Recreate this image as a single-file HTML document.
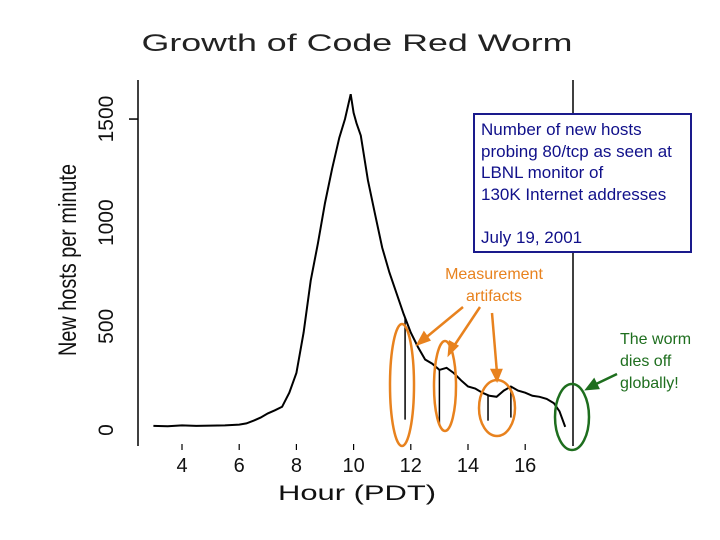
<!DOCTYPE html>
<html><head><meta charset="utf-8"><style>
html,body{margin:0;padding:0;background:#fff;}
svg{display:block;font-family:"Liberation Sans",Arial,sans-serif;}
</style></head><body>
<svg width="720" height="540" viewBox="0 0 720 540">
<text x="357" y="51" font-size="24" text-anchor="middle" textLength="431" lengthAdjust="spacingAndGlyphs" fill="#222">Growth of Code Red Worm</text>
<g id="axes"></g>
<g id="series"></g>
<text transform="translate(76,260) rotate(-90)" font-size="25" text-anchor="middle" textLength="192" lengthAdjust="spacingAndGlyphs" fill="#111">New hosts per minute</text>
<text x="357" y="500" font-size="21" text-anchor="middle" textLength="158" lengthAdjust="spacingAndGlyphs" fill="#111">Hour (PDT)</text>
<rect x="474" y="114" width="217" height="138" fill="#fff" stroke="#1a1a8c" stroke-width="2"/>
<g font-size="17" fill="#10108a">
<text x="481" y="135">Number of new hosts</text>
<text x="481" y="157">probing 80/tcp as seen at</text>
<text x="481" y="178">LBNL monitor of</text>
<text x="481" y="200">130K Internet addresses</text>
<text x="481" y="243">July 19, 2001</text>
</g>
<g font-size="16" fill="#e8821e" text-anchor="middle">
<text x="494" y="279">Measurement</text>
<text x="494" y="301">artifacts</text>
</g>
<g stroke="#e8821e" stroke-width="2.5" fill="none">
<ellipse cx="402" cy="385" rx="12" ry="61"/>
<ellipse cx="445" cy="386" rx="11" ry="45"/>
<ellipse cx="497" cy="408" rx="18" ry="28"/>
<line x1="463" y1="307" x2="423" y2="340"/><polygon points="418,344 424,333 429,340" fill="#e8821e"/>
<line x1="480" y1="307" x2="452" y2="349"/><polygon points="449,354 450,342 457,346" fill="#e8821e"/>
<line x1="492" y1="313" x2="497" y2="373"/><polygon points="497,380 492,370 501,370" fill="#e8821e"/>
</g>
<ellipse cx="572" cy="417" rx="17" ry="33" stroke="#1e6e1e" stroke-width="2.5" fill="none"/>
<g stroke="#1e6e1e" stroke-width="2.5" fill="#1e6e1e">
<line x1="617" y1="374" x2="594" y2="385"/><polygon points="587,389 594,380 598,388"/>
</g>
<g font-size="16" fill="#1e6e1e">
<text x="620" y="344">The worm</text>
<text x="620" y="366">dies off</text>
<text x="620" y="388">globally!</text>
</g>
</svg>
<script>
const hours=[3,3.5,4,4.5,5,5.5,6,6.25,6.5,6.75,7,7.25,7.5,7.75,8,8.25,8.5,8.75,9,9.25,9.5,9.7,9.9,10,10.1,10.25,10.5,10.75,11,11.25,11.5,11.75,12,12.25,12.5,12.75,13,13.25,13.5,13.75,14,14.25,14.5,14.75,15,15.25,15.5,15.75,16,16.25,16.5,16.75,17,17.2,17.4];
const counts=[20,18,22,20,21,22,26,32,45,60,80,95,112,180,275,470,720,900,1095,1260,1410,1500,1620,1530,1480,1420,1205,1040,880,760,660,560,470,400,340,320,290,300,275,240,210,200,180,165,160,190,210,190,180,165,160,150,130,90,15];
const dipHours=[11.8,13.0,14.7,15.5];
const dipValues=[50,20,45,60];
const xTicks=[4,6,8,10,12,14,16];
const yTicks=[0,500,1000,1500];
const X=h=>182+(h-4)*28.6;
const Y=v=>430-v*0.2073;
const NS='http://www.w3.org/2000/svg';
const ax=document.getElementById('axes'),se=document.getElementById('series');
function mk(tag,attrs,parent){const e=document.createElementNS(NS,tag);for(const k in attrs)e.setAttribute(k,attrs[k]);parent.appendChild(e);return e;}
let l=mk('line',{x1:138,y1:80,x2:138,y2:446,stroke:'#000','stroke-width':1.5},ax);


l=mk('line',{x1:573,y1:80,x2:573,y2:446,stroke:'#000','stroke-width':1.5},ax);


yTicks.forEach(v=>{
 const t=mk('text',{transform:`translate(113,${Y(v)}) rotate(-90)`,'font-size':21,'text-anchor':'middle',fill:'#111'},ax);
 t.textContent=v;
 
 
});
const tk=mk('line',{x1:129,y1:Y(1500),x2:138,y2:Y(1500),stroke:'#000','stroke-width':1.5},ax);


xTicks.forEach(h=>{
 const t=mk('text',{x:X(h),y:472,'font-size':20,'text-anchor':'middle',fill:'#111'},ax);
 t.textContent=h;
 
 
 const m=mk('line',{x1:X(h),y1:444,x2:X(h),y2:450,stroke:'#000','stroke-width':1.2},ax);
 
 
});
const pts=hours.map((h,i)=>X(h).toFixed(1)+','+Y(counts[i]).toFixed(1)).join(' ');
const pl=mk('polyline',{points:pts,fill:'none',stroke:'#000','stroke-width':2},se);


dipHours.forEach((h,i)=>{
 let j=0;while(j<hours.length-1&&hours[j+1]<h)j++;
 const f=(h-hours[j])/(hours[j+1]-hours[j]);
 const base=counts[j]+(counts[j+1]-counts[j])*f;
 const d=mk('line',{x1:X(h),y1:Y(base),x2:X(h),y2:Y(dipValues[i]),stroke:'#000','stroke-width':1.5},se);
 
 
});
</script>
</body></html>
